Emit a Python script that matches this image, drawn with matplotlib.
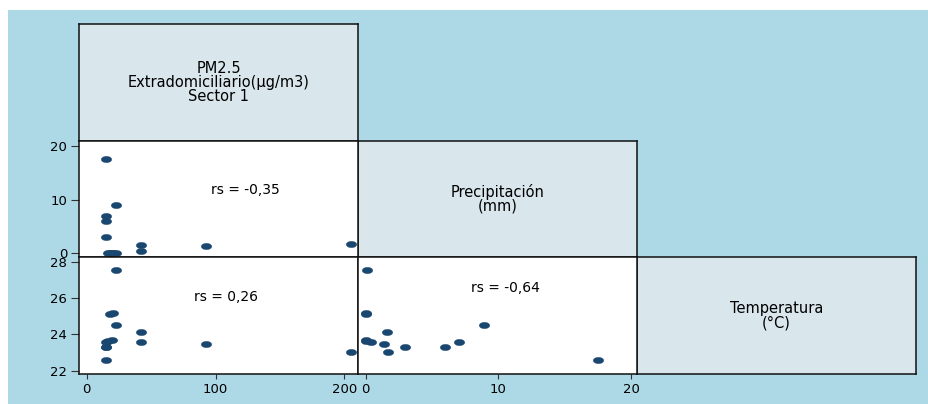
import matplotlib
matplotlib.use('Agg')
import matplotlib.pyplot as plt
from matplotlib.patches import Rectangle
from matplotlib.path import Path
from matplotlib.transforms import Affine2D

plt.rcParams['font.family'] = ['DejaVu Sans']

# observations: PM2.5 outdoor, precipitation, temperature
pm = [14.8, 22.5, 14.8, 14.8, 14.8, 42.2, 42.2, 92.4, 205.2, 22.8, 18.1, 20.4, 16.8, 19.4]
precip = [17.5, 8.95, 7.0, 6.0, 3.0, 1.6, 0.4, 1.4, 1.7, 0.1, 0.0, 0.05, 0.0, 0.0]
temp = [22.6, 24.53, 23.58, 23.3, 23.32, 24.15, 23.6, 23.48, 23.04, 27.54, 25.1, 25.16, 23.65, 23.69]

labels = ["PM2.5\nExtradomiciliario(\u00b5g/m3)\nSector 1", "Precipitaci\u00f3n\n(mm)", "Temperatura\n(\u00b0C)"]
rs_text = ["rs = -0,35", "rs = 0,26", "rs = -0,64"]

pm_ticks = [0, 100, 200]
precip_ticks = [0, 10, 20]
temp_ticks = [22, 24, 26, 28]

W, H = 929, 404
X = [79, 358, 637, 916]
Y = [24, 140.5, 257.3, 374.3]

navy = '#1a476f'
diag_fill = '#d9e6ec'
dot = Path.unit_circle().transformed(Affine2D().scale(1, 0.6))

fig = plt.figure(figsize=(W / 100, H / 100), dpi=100)
fig.patches.append(Rectangle((8 / W, 0), 1 - 8 / W, 1 - 10 / H, transform=fig.transFigure,
                             facecolor='#add8e6', edgecolor='none', zorder=-5))


def cell(col, row):
    ax = fig.add_axes([X[col] / W, 1 - Y[row + 1] / H, (X[col + 1] - X[col]) / W, (Y[row + 1] - Y[row]) / H])
    for s in ax.spines.values():
        s.set_linewidth(1.1)
        s.set_color('#111111')
    ax.tick_params(axis='y', direction='out', length=6, width=0.8, color='#333333', labelsize=9.5, pad=2.5)
    ax.tick_params(axis='x', direction='out', length=3.3, width=0.8, color='#333333', labelsize=9.5, pad=3)
    return ax


# diagonal label cells
for i in range(3):
    ax = cell(i, i)
    ax.set_facecolor(diag_fill)
    ax.set_xticks([])
    ax.set_yticks([])
    ax.text(0.5, 0.5, labels[i], ha='center', va='center', fontsize=10.5, linespacing=0.92,
            transform=ax.transAxes)

pm_lim = (-6.0, 210.6)
precip_lim = (-0.58, 20.45)
precip_ylim = (-0.74, 20.97)
temp_lim = (21.8, 28.24)

# row 2: precipitation vs PM2.5
ax21 = cell(0, 1)
ax21.plot(pm, precip, ls='none', marker=dot, ms=7.5, color=navy, mew=0.3, clip_on=False)
ax21.set_xlim(pm_lim)
ax21.set_ylim(precip_ylim)
ax21.set_xticks([])
ax21.set_yticks(precip_ticks)
ax21.text(122.9, 11.77, rs_text[0], ha='center', va='center', fontsize=10)

# row 3: temperature vs PM2.5
ax31 = cell(0, 2)
ax31.plot(pm, temp, ls='none', marker=dot, ms=7.5, color=navy, mew=0.3, clip_on=False)
ax31.set_xlim(pm_lim)
ax31.set_ylim(temp_lim)
ax31.set_xticks(pm_ticks)
ax31.set_yticks(temp_ticks)
ax31.text(108.3, 26.07, rs_text[1], ha='center', va='center', fontsize=10)

# row 3: temperature vs precipitation
ax32 = cell(1, 2)
ax32.plot(precip, temp, ls='none', marker=dot, ms=7.5, color=navy, mew=0.3, clip_on=False)
ax32.set_xlim(precip_lim)
ax32.set_ylim(temp_lim)
ax32.set_xticks(precip_ticks)
ax32.set_yticks([])
ax32.text(10.5, 26.57, rs_text[2], ha='center', va='center', fontsize=10)

fig.savefig('out.png', dpi=100)
